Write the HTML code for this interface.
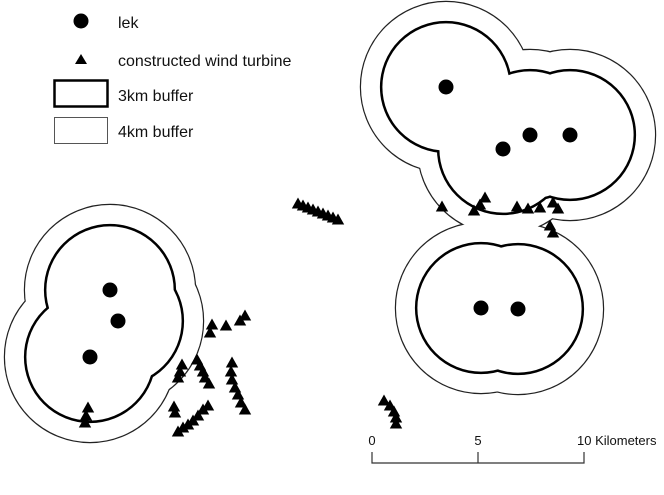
<!DOCTYPE html>
<html><head><style>html,body{margin:0;padding:0;background:#fff}svg{display:block}</style></head>
<body>
<svg width="664" height="495" viewBox="0 0 664 495" xmlns="http://www.w3.org/2000/svg">
<defs><path id="t" d="M0,-6.5 L6.2,4.5 L-6.2,4.5 Z" fill="#000"/></defs>
<g fill="none" stroke="#222" stroke-width="2.4">
<circle cx="110" cy="290" r="85"/><circle cx="118" cy="321" r="85"/><circle cx="90" cy="357" r="85"/>
<circle cx="446" cy="87" r="85"/><circle cx="530" cy="135" r="85"/><circle cx="570" cy="135" r="85"/><circle cx="503" cy="149" r="85"/>
<circle cx="481" cy="308" r="85"/><circle cx="518" cy="309" r="85"/>
</g>
<g fill="#fff">
<circle cx="110" cy="290" r="85"/><circle cx="118" cy="321" r="85"/><circle cx="90" cy="357" r="85"/>
<circle cx="446" cy="87" r="85"/><circle cx="530" cy="135" r="85"/><circle cx="570" cy="135" r="85"/><circle cx="503" cy="149" r="85"/>
<circle cx="481" cy="308" r="85"/><circle cx="518" cy="309" r="85"/>
</g>
<g fill="none" stroke="#000" stroke-width="5">
<circle cx="110" cy="290" r="63.6"/><circle cx="118" cy="321" r="63.6"/><circle cx="90" cy="357" r="63.6"/>
<circle cx="446" cy="87" r="63.6"/><circle cx="530" cy="135" r="63.6"/><circle cx="570" cy="135" r="63.6"/><circle cx="503" cy="149" r="63.6"/>
<circle cx="481" cy="308" r="63.6"/><circle cx="518" cy="309" r="63.6"/>
</g>
<g fill="#fff">
<circle cx="110" cy="290" r="63.6"/><circle cx="118" cy="321" r="63.6"/><circle cx="90" cy="357" r="63.6"/>
<circle cx="446" cy="87" r="63.6"/><circle cx="530" cy="135" r="63.6"/><circle cx="570" cy="135" r="63.6"/><circle cx="503" cy="149" r="63.6"/>
<circle cx="481" cy="308" r="63.6"/><circle cx="518" cy="309" r="63.6"/>
</g>
<g fill="#000">
<circle cx="110" cy="290" r="7.5"/><circle cx="118" cy="321" r="7.5"/><circle cx="90" cy="357" r="7.5"/>
<circle cx="446" cy="87" r="7.5"/><circle cx="530" cy="135" r="7.5"/><circle cx="570" cy="135" r="7.5"/><circle cx="503" cy="149" r="7.5"/>
<circle cx="481" cy="308" r="7.5"/><circle cx="518" cy="309" r="7.5"/>
</g>
<g>
<use href="#t" x="298" y="204"/><use href="#t" x="303" y="206"/><use href="#t" x="308" y="208"/><use href="#t" x="313" y="210"/><use href="#t" x="318" y="212"/><use href="#t" x="323" y="214"/><use href="#t" x="328" y="216"/><use href="#t" x="333" y="218"/><use href="#t" x="338" y="220"/>
<use href="#t" x="212" y="325"/><use href="#t" x="210" y="333"/><use href="#t" x="226" y="326"/><use href="#t" x="240" y="321"/><use href="#t" x="245" y="316"/>
<use href="#t" x="182" y="365"/><use href="#t" x="180" y="372"/><use href="#t" x="178" y="378"/>
<use href="#t" x="197" y="360"/><use href="#t" x="200" y="366"/><use href="#t" x="203" y="372"/><use href="#t" x="205" y="378"/><use href="#t" x="209" y="384"/>
<use href="#t" x="232" y="363"/><use href="#t" x="231" y="372"/><use href="#t" x="232" y="380"/><use href="#t" x="235" y="388"/><use href="#t" x="238" y="395"/><use href="#t" x="241" y="403"/><use href="#t" x="245" y="410"/>
<use href="#t" x="174" y="407"/><use href="#t" x="175" y="413"/>
<use href="#t" x="178" y="432"/><use href="#t" x="183" y="428"/><use href="#t" x="188" y="425"/><use href="#t" x="193" y="421"/><use href="#t" x="198" y="416"/><use href="#t" x="203" y="410"/><use href="#t" x="208" y="406"/>
<use href="#t" x="88" y="408"/><use href="#t" x="86" y="416"/><use href="#t" x="85" y="423"/>
<use href="#t" x="442" y="207"/><use href="#t" x="485" y="198"/><use href="#t" x="480" y="205"/><use href="#t" x="474" y="211"/><use href="#t" x="517" y="207"/><use href="#t" x="528" y="209"/><use href="#t" x="540" y="208"/><use href="#t" x="553" y="203"/><use href="#t" x="558" y="209"/><use href="#t" x="550" y="226"/><use href="#t" x="553" y="233"/>
<use href="#t" x="384" y="401"/><use href="#t" x="390" y="406"/><use href="#t" x="394" y="412"/><use href="#t" x="396" y="418"/><use href="#t" x="396" y="424"/>
</g>
<circle cx="81" cy="21" r="7.5" fill="#000"/>
<path d="M81,54 L87,64 L75,64 Z" fill="#000"/>
<rect x="54.5" y="80.5" width="53" height="26" fill="#fff" stroke="#000" stroke-width="2.5"/>
<rect x="54.5" y="117.5" width="53" height="26" fill="#fff" stroke="#555" stroke-width="1"/>
<g font-family="Liberation Sans, sans-serif" font-size="16" fill="#111">
<text x="118" y="28">lek</text>
<text x="118" y="66">constructed wind turbine</text>
<text x="118" y="101">3km buffer</text>
<text x="118" y="137">4km buffer</text>
</g>
<g stroke="#333" stroke-width="1.2" fill="none">
<path d="M372,452 V463 H584 V452 M478,463 V452"/>
</g>
<g font-family="Liberation Sans, sans-serif" font-size="13" fill="#111">
<text x="372" y="445" text-anchor="middle">0</text>
<text x="478" y="445" text-anchor="middle">5</text>
<text x="577" y="445">10 Kilometers</text>
</g>
</svg>
</body></html>
